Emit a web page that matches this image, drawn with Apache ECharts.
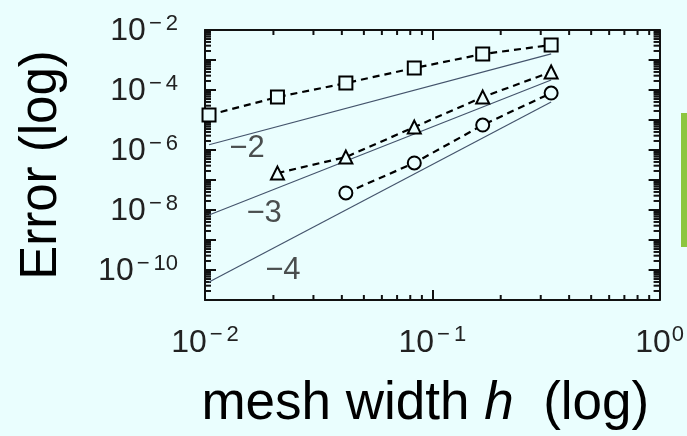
<!DOCTYPE html>
<html>
<head>
<meta charset="utf-8">
<script src="https://cdn.jsdelivr.net/npm/echarts@6/dist/echarts.min.js"></script>
<style>
html, body { margin: 0; padding: 0; background: #eafefe; }
#main { width: 687px; height: 436px; }
</style>
</head>
<body>
<div id="main"></div>
<script>
// mesh widths h = 1/3 ... 1/96
var hSquare = [1/96, 1/48, 1/24, 1/12, 1/6, 1/3];
var errSquare = [1.47e-5, 5.8e-5, 1.7e-4, 5.4e-4, 1.58e-3, 3.16e-3];
var hTriangle = [1/48, 1/24, 1/12, 1/6, 1/3];
var errTriangle = [1.7e-7, 5.8e-7, 5.8e-6, 5.8e-5, 4.0e-4];
var hCircle = [1/24, 1/12, 1/6, 1/3];
var errCircle = [3.7e-8, 3.7e-7, 6.8e-6, 7.9e-5];

// reference slope lines (start / end)
var refH = [1/96, 1/3];
var ref2 = [1.5e-6, 1.6e-3];
var ref3 = [6.8e-9, 2.15e-4];
var ref4 = [4.0e-11, 4.0e-5];

// slope annotations
var slopeText = ['\u22122', '\u22123', '\u22124'];
var slopeH = [0.0153, 0.0182, 0.022];
var slopeErr = [1.17e-6, 7.9e-9, 9.3e-11];

// axis setup
var xMin = 0.01, xMax = 1;
var yMin = 1e-11, yMax = 1e-2;
var yLabelExps = [-2, -4, -6, -8, -10];
var minorMult = [2, 3, 4, 5, 6, 7, 8, 9];
var xDecades = [0.01, 0.1];
var yDecades = [1e-11, 1e-10, 1e-9, 1e-8, 1e-7, 1e-6, 1e-5, 1e-4, 1e-3];

var bg = '#eafefe';

function pairs(xs, ys) {
  return xs.map(function (x, i) { return [x, ys[i]]; });
}

// minor tick positions: [x, y, kind] kind 0 = x-axis tick, 1 = y-axis tick
var minorTicks = [];
xDecades.forEach(function (d) {
  minorMult.forEach(function (m) { minorTicks.push([d * m, yMin, 0]); });
});
yDecades.forEach(function (d) {
  minorMult.forEach(function (m) { minorTicks.push([xMin, d * m, 1]); });
});

function supLabel(v) {
  var e = Math.round(Math.log10(v));
  if (e < 0) return '{b|10}{m|\u2212}{s|' + (-e) + '}';
  return '{b|10}{s|' + e + '}';
}

var labelRich = {
  b: { fontSize: 32, fontFamily: 'Liberation Sans', color: '#222', lineHeight: 35, verticalAlign: 'bottom' },
  m: { fontSize: 22, fontFamily: 'Liberation Sans', color: '#222', lineHeight: 22, verticalAlign: 'top', padding: [0, 3, 0, 3] },
  s: { fontSize: 22, fontFamily: 'Liberation Sans', color: '#222', lineHeight: 22, verticalAlign: 'top', padding: [0, 0, 0, 1] }
};

var frameLine = { show: true, onZero: false, lineStyle: { color: '#111', width: 2 } };

var chart = echarts.init(document.getElementById('main'));
var option = {
  backgroundColor: bg,
  animation: false,
  grid: { left: 205, top: 30, width: 455, height: 270, containLabel: false },
  graphic: [
    { type: 'rect', shape: { x: 681, y: 113, width: 6, height: 134 }, style: { fill: '#8cc63f' } }
  ],
  xAxis: [
    {
      type: 'log', logBase: 10, min: xMin, max: xMax, interval: 1,
      position: 'bottom',
      axisLine: frameLine,
      axisTick: { show: true, inside: true, length: 10, lineStyle: { color: '#111', width: 2 } },
      splitLine: { show: false },
      axisLabel: { margin: 24, formatter: supLabel, rich: labelRich },
      name: '{n|mesh width }{i|h}{n|  (log)}',
      nameLocation: 'middle',
      nameGap: 78,
      nameTextStyle: {
        padding: [0, 14, 0, 0],
        rich: {
          n: { fontSize: 53, fontFamily: 'Liberation Sans', color: '#000' },
          i: { fontSize: 53, fontFamily: 'Liberation Sans', fontStyle: 'italic', color: '#000' }
        }
      }
    },
    {
      type: 'log', logBase: 10, min: xMin, max: xMax, interval: 1,
      position: 'top',
      axisLine: frameLine,
      axisTick: { show: true, inside: true, length: 10, lineStyle: { color: '#111', width: 2 } },
      splitLine: { show: false },
      axisLabel: { show: false }
    }
  ],
  yAxis: [
    {
      type: 'log', logBase: 10, min: yMin, max: yMax, interval: 1,
      position: 'left',
      axisLine: frameLine,
      axisTick: { show: true, inside: true, length: 11, lineStyle: { color: '#111', width: 2 } },
      splitLine: { show: false },
      axisLabel: {
        margin: 27,
        formatter: function (v) {
          var e = Math.round(Math.log10(v));
          return yLabelExps.indexOf(e) >= 0 ? supLabel(v) : '';
        },
        rich: labelRich
      },
      name: 'Error (log)',
      nameLocation: 'middle',
      nameRotate: 90,
      nameGap: 138,
      nameTextStyle: { fontSize: 51, fontFamily: 'Liberation Sans', color: '#000' }
    },
    {
      type: 'log', logBase: 10, min: yMin, max: yMax, interval: 1,
      position: 'right',
      axisLine: frameLine,
      axisTick: { show: true, inside: true, length: 11, lineStyle: { color: '#111', width: 2 } },
      splitLine: { show: false },
      axisLabel: { show: false }
    }
  ],
  series: [
    {
      type: 'custom',
      xAxisIndex: 0, yAxisIndex: 0,
      silent: true,
      clip: false,
      data: minorTicks,
      renderItem: function (params, api) {
        var kind = api.value(2);
        var lines = [];
        if (kind === 0) {
          var b = api.coord([api.value(0), yMin]);
          var t = api.coord([api.value(0), yMax]);
          lines.push([b[0], b[1], b[0], b[1] - 5]);
          lines.push([t[0], t[1], t[0], t[1] + 5]);
        } else {
          var l = api.coord([xMin, api.value(1)]);
          var r = api.coord([xMax, api.value(1)]);
          lines.push([l[0], l[1], l[0] + 6, l[1]]);
          lines.push([r[0], r[1], r[0] - 6, r[1]]);
        }
        return {
          type: 'group',
          children: lines.map(function (p) {
            return { type: 'line', shape: { x1: p[0], y1: p[1], x2: p[2], y2: p[3] }, style: { stroke: '#111', lineWidth: 2 } };
          })
        };
      }
    },
    { type: 'line', data: pairs(refH, ref2), symbol: 'none', lineStyle: { color: '#44546c', width: 1.2 } },
    { type: 'line', data: pairs(refH, ref3), symbol: 'none', lineStyle: { color: '#44546c', width: 1.2 } },
    { type: 'line', data: pairs(refH, ref4), symbol: 'none', lineStyle: { color: '#44546c', width: 1.2 } },
    {
      type: 'line', data: pairs(hSquare, errSquare),
      symbol: 'rect', symbolSize: 13,
      lineStyle: { color: '#000', width: 2.2, type: [7, 5] },
      itemStyle: { color: bg, borderColor: '#000', borderWidth: 2 }
    },
    {
      type: 'line', data: pairs(hTriangle, errTriangle),
      symbol: 'triangle', symbolSize: 13,
      lineStyle: { color: '#000', width: 2.2, type: [7, 5] },
      itemStyle: { color: bg, borderColor: '#000', borderWidth: 2 }
    },
    {
      type: 'line', data: pairs(hCircle, errCircle),
      symbol: 'circle', symbolSize: 13,
      lineStyle: { color: '#000', width: 2.2, type: [7, 5] },
      itemStyle: { color: bg, borderColor: '#000', borderWidth: 2 }
    },
    {
      type: 'scatter',
      data: slopeH.map(function (h, i) { return { value: [h, slopeErr[i]], name: slopeText[i] }; }),
      symbolSize: 0,
      label: {
        show: true, position: 'inside',
        formatter: function (p) { return p.name; },
        fontSize: 31, fontFamily: 'Liberation Sans', color: '#222'
      }
    }
  ]
};
chart.setOption(option);
</script>
</body>
</html>
